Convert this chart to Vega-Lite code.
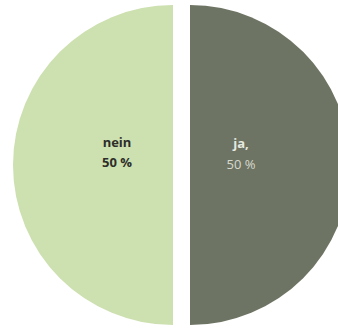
{
  "$schema": "https://vega.github.io/schema/vega-lite/v6.json",
  "width": 338,
  "height": 330,
  "autosize": {"type": "none"},
  "padding": 0,
  "background": "white",
  "config": {"view": {"stroke": null}},
  "data": {"values": [
    {"antwort": "ja,", "anteil": 50, "ord": 1},
    {"antwort": "nein", "anteil": 50, "ord": 2}
  ]},
  "transform": [
    {"stack": "anteil", "groupby": [], "sort": [{"field": "ord", "order": "ascending"}], "as": ["a0", "a1"]},
    {"calculate": "(datum.a0 + datum.a1) / 2", "as": "amid"}
  ],
  "layer": [
    {
      "transform": [{"filter": "datum.antwort === 'nein'"}],
      "mark": {"type": "arc", "radius": 160, "xOffset": 4, "color": "#cde0b0"},
      "encoding": {"theta": {"field": "a0", "type": "quantitative", "scale": {"domain": [0, 100]}}, "theta2": {"field": "a1"}}
    },
    {
      "transform": [{"filter": "datum.antwort === 'ja,'"}],
      "mark": {"type": "arc", "radius": 160, "xOffset": 21, "color": "#6e7463"},
      "encoding": {"theta": {"field": "a0", "type": "quantitative", "scale": {"domain": [0, 100]}}, "theta2": {"field": "a1"}}
    },
    {
      "transform": [{"filter": "datum.antwort === 'nein'"}],
      "mark": {"type": "text", "radius": 56, "xOffset": 4, "dy": -22, "font": "Open Sans", "fontSize": 13, "fontWeight": "bold", "color": "#2e2e2a"},
      "encoding": {"theta": {"field": "amid", "type": "quantitative", "scale": {"domain": [0, 100]}}, "text": {"field": "antwort"}}
    },
    {
      "transform": [{"filter": "datum.antwort === 'nein'"}],
      "mark": {"type": "text", "radius": 56, "xOffset": 4, "dy": -2, "font": "Open Sans", "fontSize": 13, "fontWeight": "bold", "color": "#2e2e2a"},
      "encoding": {"theta": {"field": "amid", "type": "quantitative", "scale": {"domain": [0, 100]}}, "text": {"value": "50 %"}}
    },
    {
      "transform": [{"filter": "datum.antwort === 'ja,'"}],
      "mark": {"type": "text", "radius": 51, "xOffset": 21, "dy": -21, "font": "Open Sans", "fontSize": 13, "fontWeight": "bold", "color": "#e6e8e0"},
      "encoding": {"theta": {"field": "amid", "type": "quantitative", "scale": {"domain": [0, 100]}}, "text": {"field": "antwort"}}
    },
    {
      "transform": [{"filter": "datum.antwort === 'ja,'"}],
      "mark": {"type": "text", "radius": 51, "xOffset": 21, "dy": 0, "font": "Open Sans", "fontSize": 13, "color": "#d6d9cf"},
      "encoding": {"theta": {"field": "amid", "type": "quantitative", "scale": {"domain": [0, 100]}}, "text": {"value": "50 %"}}
    }
  ]
}
